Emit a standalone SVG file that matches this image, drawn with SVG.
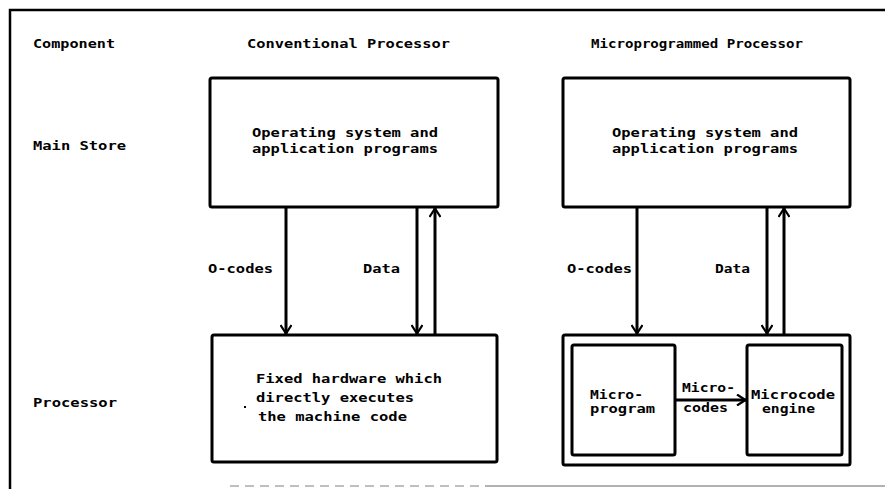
<svg xmlns="http://www.w3.org/2000/svg" width="885" height="489" viewBox="0 0 885 489">
<defs>
<style>
.t{font-family:"DejaVu Sans Mono","Liberation Mono",monospace;font-weight:bold;font-size:13px;fill:#000}
.box{fill:none;stroke:#000;stroke-width:3}
.ln{fill:none;stroke:#000;stroke-width:3}
.frame{fill:none;stroke:#000;stroke-width:2.5}
</style>
<marker id="ah" viewBox="0 0 10 12" refX="10" refY="6" markerWidth="10" markerHeight="12" markerUnits="userSpaceOnUse" orient="auto">
<path d="M1,0.5 L9.5,6 L1,11.5" fill="none" stroke="#000" stroke-width="2.2"/>
</marker>
</defs>
<rect width="885" height="489" fill="#fff"/>
<g id="frame">
<path class="frame" d="M10,489 L10,10 L885,10"/>
<path d="M230,486 L485,486" stroke="#aaa" stroke-width="1.5" stroke-dasharray="9,6"/>
<path d="M485,486 L885,486" stroke="#999" stroke-width="1.5"/>
</g>
<g id="headers">
<text class="t" x="33" y="48" textLength="82" lengthAdjust="spacingAndGlyphs">Component</text>
<text class="t" x="247" y="48" textLength="203" lengthAdjust="spacingAndGlyphs">Conventional Processor</text>
<text class="t" x="591" y="48" textLength="212" lengthAdjust="spacingAndGlyphs">Microprogrammed Processor</text>
<text class="t" x="33" y="150" textLength="93" lengthAdjust="spacingAndGlyphs">Main Store</text>
<text class="t" x="33" y="407" textLength="84" lengthAdjust="spacingAndGlyphs">Processor</text>
</g>
<g id="conv-main">
<rect class="box" x="210" y="78" width="288" height="129" rx="2"/>
<text class="t" x="252" y="137" textLength="186" lengthAdjust="spacingAndGlyphs">Operating system and</text>
<text class="t" x="252" y="153" textLength="186" lengthAdjust="spacingAndGlyphs">application programs</text>
</g>
<g id="micro-main">
<rect class="box" x="563" y="78" width="287" height="129" rx="2"/>
<text class="t" x="612" y="137" textLength="186" lengthAdjust="spacingAndGlyphs">Operating system and</text>
<text class="t" x="612" y="153" textLength="186" lengthAdjust="spacingAndGlyphs">application programs</text>
</g>
<g id="conv-proc">
<rect class="box" x="212" y="335" width="285" height="127" rx="2"/>
<text class="t" x="256" y="383" textLength="186" lengthAdjust="spacingAndGlyphs">Fixed hardware which</text>
<text class="t" x="256" y="402" textLength="158" lengthAdjust="spacingAndGlyphs">directly executes</text>
<text class="t" x="258" y="421" textLength="149" lengthAdjust="spacingAndGlyphs">the machine code</text>
<rect x="244" y="406" width="2" height="2" fill="#000"/>
</g>
<g id="micro-proc">
<rect class="box" x="563" y="335" width="287" height="130" rx="2"/>
</g>
<g id="microprogram">
<rect class="box" x="572" y="345" width="103" height="110" rx="2"/>
<text class="t" x="590" y="399" textLength="53" lengthAdjust="spacingAndGlyphs">Micro-</text>
<text class="t" x="590" y="413" textLength="65" lengthAdjust="spacingAndGlyphs">program</text>
</g>
<g id="microengine">
<rect class="box" x="747" y="345" width="95" height="110" rx="2"/>
<text class="t" x="751" y="399" textLength="84" lengthAdjust="spacingAndGlyphs">Microcode</text>
<text class="t" x="762" y="413" textLength="53" lengthAdjust="spacingAndGlyphs">engine</text>
</g>
<g id="connectors">
<line class="ln" x1="286" y1="207" x2="286" y2="334" marker-end="url(#ah)"/>
<line class="ln" x1="417" y1="207" x2="417" y2="334" marker-end="url(#ah)"/>
<line class="ln" x1="435" y1="335" x2="435" y2="208" marker-end="url(#ah)"/>
<line class="ln" x1="637" y1="207" x2="637" y2="334" marker-end="url(#ah)"/>
<line class="ln" x1="767" y1="207" x2="767" y2="334" marker-end="url(#ah)"/>
<line class="ln" x1="784" y1="335" x2="784" y2="208" marker-end="url(#ah)"/>
<line class="ln" x1="675" y1="400" x2="746" y2="400" marker-end="url(#ah)"/>
<text class="t" x="208" y="273" textLength="65" lengthAdjust="spacingAndGlyphs">O-codes</text>
<text class="t" x="363" y="273" textLength="37" lengthAdjust="spacingAndGlyphs">Data</text>
<text class="t" x="567" y="273" textLength="65" lengthAdjust="spacingAndGlyphs">O-codes</text>
<text class="t" x="715" y="273" textLength="35" lengthAdjust="spacingAndGlyphs">Data</text>
<text class="t" x="682" y="392" textLength="53" lengthAdjust="spacingAndGlyphs">Micro-</text>
<text class="t" x="683" y="412" textLength="45" lengthAdjust="spacingAndGlyphs">codes</text>
</g>
</svg>
